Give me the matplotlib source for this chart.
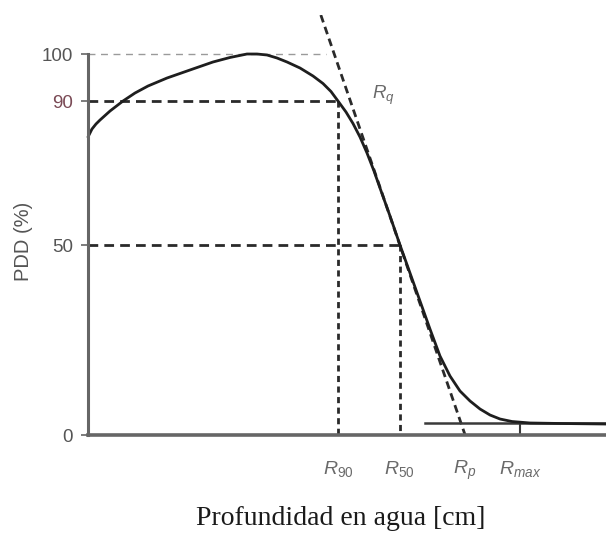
import numpy as np
import matplotlib
matplotlib.use("Agg")
import matplotlib.pyplot as plt
from matplotlib.scale import FuncScale

plt.rcParams["mathtext.fontset"] = "custom"
plt.rcParams["mathtext.it"] = "Liberation Sans:italic"
plt.rcParams["mathtext.rm"] = "Liberation Sans"
plt.rcParams["font.family"] = ["Liberation Sans", "DejaVu Sans"]

# Depth-dose curve (depth in cm, PDD in %)
depth = [0.000, 0.077, 0.154, 0.232, 0.425, 0.676, 0.907, 1.158, 1.525,
         1.969, 2.413, 2.741, 3.069, 3.262, 3.456, 3.649, 3.842, 4.093,
         4.344, 4.537, 4.691, 4.826, 4.981, 5.116, 5.251, 5.386, 5.521,
         5.637, 5.830, 6.023, 6.216, 6.409, 6.602, 6.795, 6.988, 7.181,
         7.375, 7.568, 7.761, 7.954, 8.185, 8.533, 9.112, 10.000]
pdd = [80.00, 82.22, 83.61, 84.72, 87.22, 90.00, 91.70, 93.19, 94.89,
       96.60, 98.30, 99.26, 100.00, 100.00, 99.79, 99.15, 98.30, 97.02,
       95.32, 93.72, 92.02, 90.00, 86.94, 83.75, 80.00, 75.56, 70.56,
       65.83, 58.06, 50.00, 42.63, 35.26, 27.89, 20.79, 15.53, 11.58,
       8.95, 6.84, 5.26, 4.21, 3.55, 3.16, 3.03, 2.89]

# Characteristic depths (cm)
R90 = 4.83
R50 = 6.02
Rp = 7.28
Rmax = 8.34
bremsstrahlung_level = 3.1
bremsstrahlung_start = 6.5
ref_100_end = 4.6

y_ticks = [0, 50, 90, 100]
y_tick_labels = ["0", "50", "90", "100"]
x_ticks = [R90, R50, Rp, Rmax]
x_tick_labels = [r"$R_{90}$", r"$R_{50}$", r"$R_{p}$", r"$R_{max}$"]

# Schematic (piecewise-linear) dose axis
_v = [-50, 0, 50, 90, 100, 150]
_p = [-190, 0, 190, 334, 381, 616]


def fwd(v):
    return np.interp(v, _v, _p)


def inv(p):
    return np.interp(p, _p, _v)


fig = plt.figure(figsize=(6.06, 5.37), dpi=100)
ax = fig.add_axes([88 / 606, (537 - 435) / 537, 1 - 88 / 606, (435 - 15) / 537])
ax.set_yscale(FuncScale(ax, (fwd, inv)))
ax.set_xlim(0, 10)
ax.set_ylim(0, 108.3)

axis_col = "#666666"
curve_col = "#1e1e1e"
dash_col = "#2a2a2a"

# reference dashed lines
ax.plot([0, ref_100_end], [100, 100], color="#9a9a9a", lw=1.0,
        dashes=(5, 4), clip_on=False)
ax.plot([0, R90], [90, 90], color=dash_col, lw=2.0, dashes=(3.5, 2.2))
ax.plot([0, R50], [50, 50], color=dash_col, lw=2.0, dashes=(3.5, 2.2))
ax.plot([R90, R90], [90, 0], color=dash_col, lw=2.0, dashes=(2.2, 1.6))
ax.plot([R50, R50], [50, 0], color=dash_col, lw=2.0, dashes=(2.2, 1.6))

# tangent at the steepest part of the fall-off
ax.axline((Rp, 0), (R50, 50), color=dash_col, lw=2.0, dashes=(2.8, 1.7))

# bremsstrahlung tail and R_max marker
ax.plot([bremsstrahlung_start, 10], [bremsstrahlung_level] * 2,
        color="#3a3a3a", lw=1.8, clip_on=False)
ax.plot([Rmax, Rmax], [0, bremsstrahlung_level], color="#3a3a3a", lw=1.5)

# PDD curve
ax.plot(depth, pdd, color=curve_col, lw=2.0, solid_capstyle="round",
        solid_joinstyle="round", clip_on=False)

ax.text(5.48, 91.2, r"$R_{q}$", color="#6a6a6a", fontsize=13.5,
        ha="left", va="center")

# axes styling
for s in ("top", "right"):
    ax.spines[s].set_visible(False)
ax.spines["left"].set_bounds(0, 100)
ax.spines["left"].set_color(axis_col)
ax.spines["left"].set_linewidth(2.2)
ax.spines["bottom"].set_color(axis_col)
ax.spines["bottom"].set_linewidth(2.6)

ax.set_yticks(y_ticks)
ax.set_yticklabels(y_tick_labels)
ax.tick_params(axis="y", length=5, width=1.2, color=axis_col,
               labelsize=13.5, labelcolor="#555555", pad=6)
for lbl in ax.get_yticklabels():
    if lbl.get_text() == "90":
        lbl.set_color("#7a4a55")

ax.set_xticks(x_ticks)
ax.set_xticklabels(x_tick_labels)
ax.tick_params(axis="x", length=0, labelsize=14, labelcolor="#6a6a6a",
               pad=17)

ax.set_ylabel("PDD (%)", fontsize=14.5, color="#555555")
ax.yaxis.set_label_coords(-0.106, 0.462)
ax.set_xlabel("Profundidad en agua [cm]", fontsize=20,
              family="Liberation Serif", color="#1a1a1a")
ax.xaxis.set_label_coords(0.488, -0.17)

fig.savefig("out.png", dpi=100)
